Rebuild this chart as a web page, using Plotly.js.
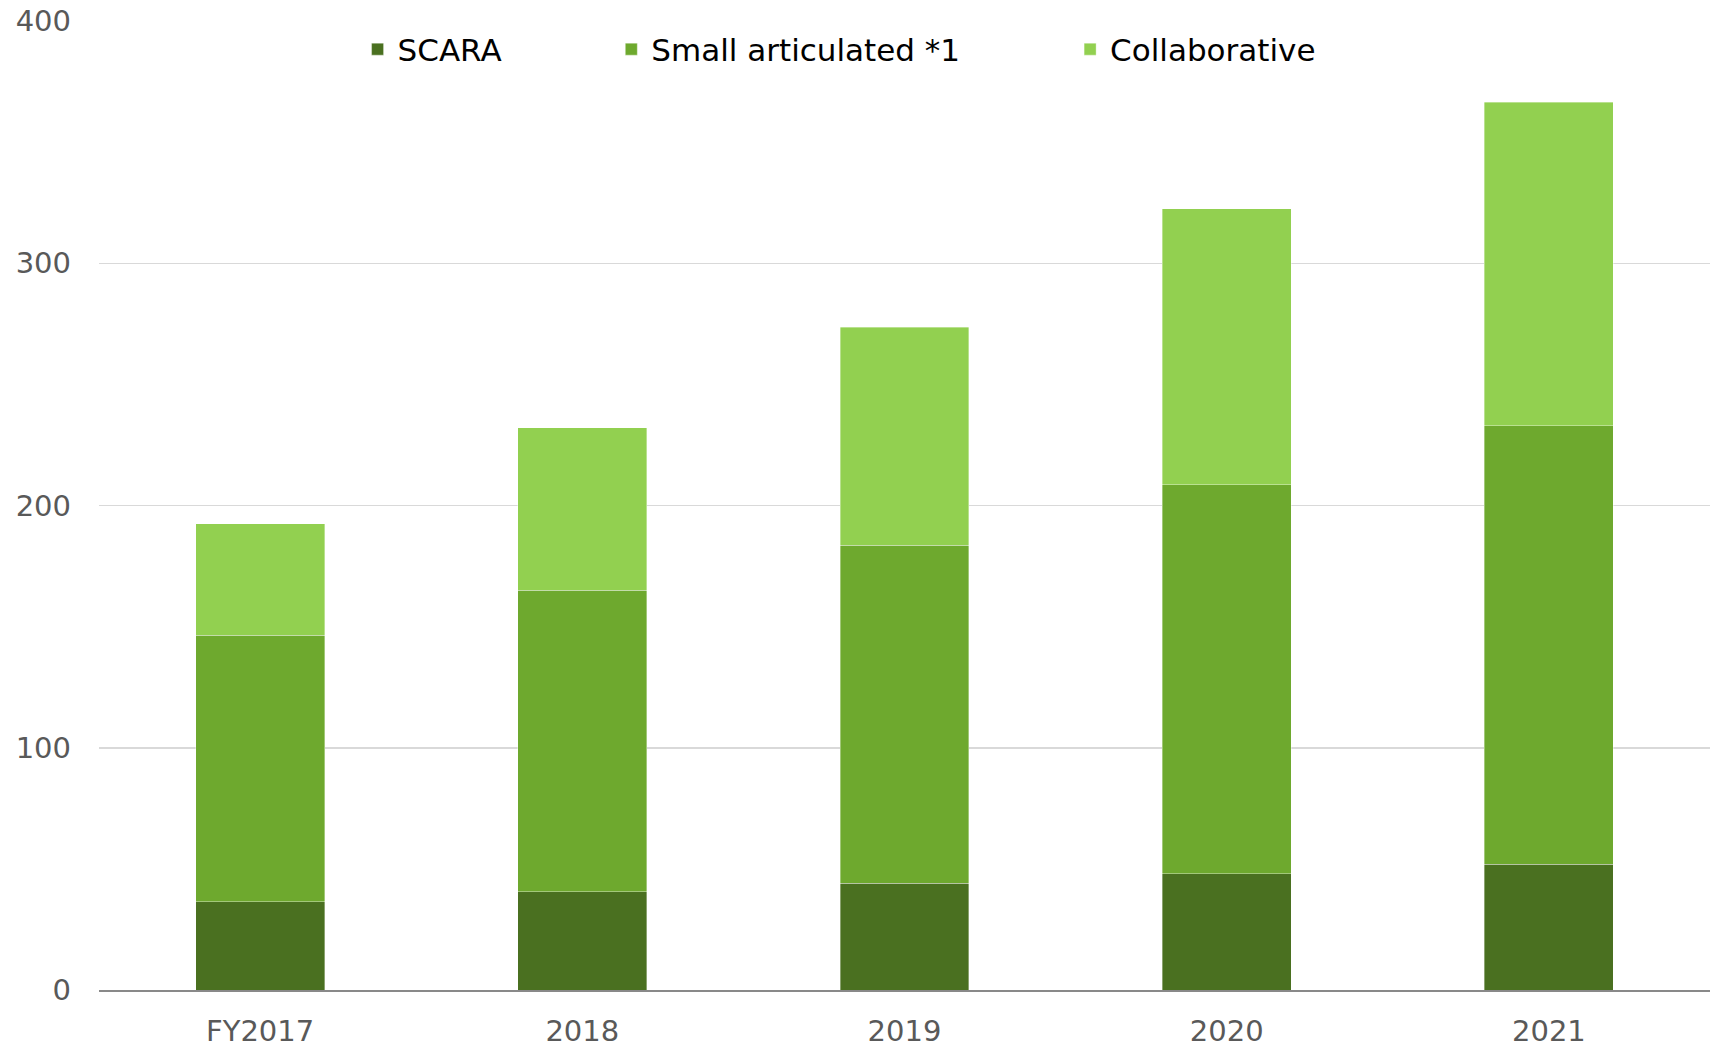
<!DOCTYPE html>
<html>
<head>
<meta charset="utf-8">
<script src="https://cdn.plot.ly/plotly-3.0.1.min.js"></script>
<style>html,body{margin:0;padding:0;background:#fff;}#chart{width:1717px;height:1047px;}</style>
</head>
<body>
<div id="chart"></div>
<script>
const categories = ["FY2017", "2018", "2019", "2020", "2021"];
const scara = [36.5, 40.5, 44, 48, 52];
const smallArticulated = [110, 124.5, 139.5, 160.5, 181];
const collaborative = [46, 67, 90, 114, 133.5];
const seriesNames = ["SCARA", "Small articulated *1", "Collaborative"];
const yTicks = [0, 100, 200, 300, 400];

const colors = ["#4a7020", "#6ea92e", "#92d050"];
const legendIds = ["legend", "legend2", "legend3"];
const traces = [scara, smallArticulated, collaborative].map((vals, i) => ({
  type: "bar",
  x: categories,
  y: vals,
  name: seriesNames[i],
  legend: legendIds[i],
  marker: {color: colors[i], line: {width: 0.6, color: "rgba(255,255,255,0.6)"}},
  hoverinfo: "skip"
}));

const legendBase = {
  orientation: "h",
  xanchor: "left",
  yanchor: "middle",
  y: 0.9706,
  bgcolor: "rgba(0,0,0,0)",
  font: {family: "DejaVu Sans", size: 31, color: "#000000"},
  itemwidth: 30
};

const layout = {
  width: 1717,
  height: 1047,
  margin: {l: 98.5, r: 7, t: 20.5, b: 57, autoexpand: false},
  paper_bgcolor: "#ffffff",
  plot_bgcolor: "#ffffff",
  barmode: "stack",
  bargap: 0.6,
  showlegend: true,
  legend: Object.assign({}, legendBase, {x: 0.1605}),
  legend2: Object.assign({}, legendBase, {x: 0.318}),
  legend3: Object.assign({}, legendBase, {x: 0.6028}),
  font: {family: "DejaVu Sans", color: "#595959"},
  xaxis: {
    type: "category",
    showline: true,
    linecolor: "#898989",
    linewidth: 2,
    ticks: "",
    ticklabelstandoff: 14,
    tickfont: {family: "DejaVu Sans", size: 29, color: "#595959"},
    showgrid: false,
    automargin: false
  },
  yaxis: {
    range: [0, 400],
    tickvals: yTicks,
    ticktext: yTicks.map(String),
    showgrid: true,
    gridcolor: "#d9d9d9",
    gridwidth: 1.5,
    zeroline: false,
    showline: false,
    ticks: "",
    ticklabelstandoff: 27,
    tickfont: {family: "DejaVu Sans", size: 29, color: "#595959"},
    automargin: false
  }
};

Plotly.newPlot("chart", traces, layout, {staticPlot: true, displayModeBar: false});
</script>
</body>
</html>
